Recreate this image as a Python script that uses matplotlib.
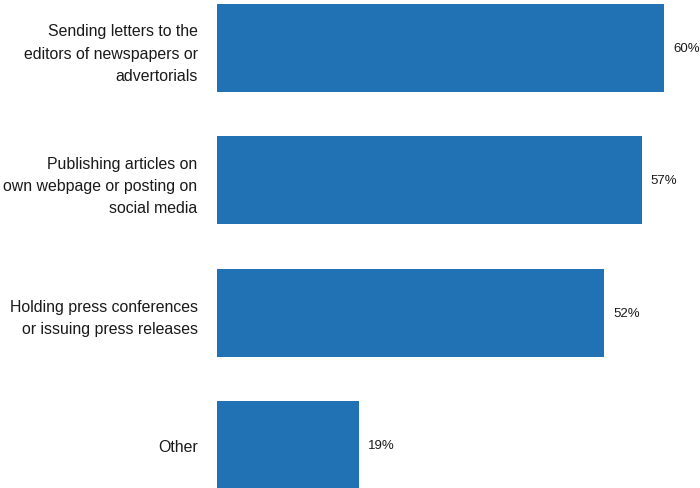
import matplotlib.pyplot as plt

plt.rcParams['font.family'] = ['Liberation Sans', 'DejaVu Sans']

categories = [
    "Sending letters to the\neditors of newspapers or\nadvertorials",
    "Publishing articles on\nown webpage or posting on\nsocial media",
    "Holding press conferences\nor issuing press releases",
    "Other",
]
shares = [60, 57, 52, 19]

fig = plt.figure(figsize=(7, 4.89), dpi=100)
ax = fig.add_axes([217 / 700, 0, 483 / 700, 1])

pos = list(range(len(categories)))
ax.barh(pos, shares, height=0.665, color='#2171b5')

for p, v in zip(pos, shares):
    ax.text(v + 1.2, p, f"{v}%", va='center', ha='left', fontsize=9.5, color='#1a1a1a')

ax.set_yticks(pos)
ax.set_yticklabels(categories, fontsize=11.4, color='#1a1a1a', linespacing=1.6)
ax.tick_params(axis='y', length=0, pad=14)
ax.set_xticks([])
ax.set_xlim(0, 483 / 7.45)
ax.set_ylim(3.325, -0.37)
for s in ax.spines.values():
    s.set_visible(False)

plt.savefig("out.png", dpi=100)
